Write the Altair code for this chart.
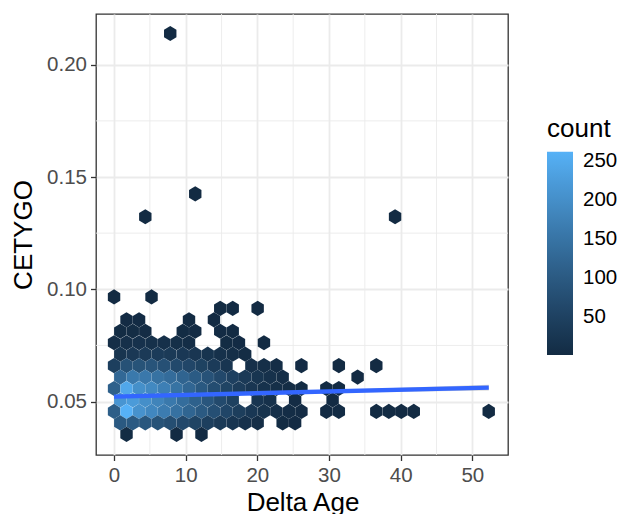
import altair as alt
import pandas as pd

# ---- hexagon bins: one entry per row of the hex grid (centre y), with centre x and count ----
row_y = [0.2139, 0.1425, 0.1323, 0.0966, 0.0915, 0.0864, 0.0813, 0.0762,
         0.0711, 0.0660, 0.0609, 0.0558, 0.0507, 0.0456, 0.0405, 0.0354]

row_x = [
    [7.84],
    [11.33],
    [4.36, 39.22],
    [0.00, 5.23],
    [14.82, 16.56, 20.04],
    [1.74, 3.49, 10.46, 13.94],
    [0.87, 2.61, 4.36, 9.59, 11.33, 14.82, 16.56],
    [0.00, 1.74, 3.49, 5.23, 6.97, 8.72, 10.46, 15.69, 17.43, 20.92],
    [0.87, 2.61, 4.36, 6.10, 7.84, 9.59, 11.33, 13.07, 14.82, 16.56, 18.30],
    [0.00, 1.74, 3.49, 5.23, 6.97, 8.72, 10.46, 12.20, 13.94, 15.69,
     19.17, 20.92, 22.66, 26.15, 31.37, 36.60],
    [0.87, 2.61, 4.36, 6.10, 7.84, 9.59, 11.33, 13.07, 14.82, 16.56,
     18.30, 20.04, 21.79, 23.53, 33.99],
    [0.00, 1.74, 3.49, 5.23, 6.97, 8.72, 10.46, 12.20, 13.94, 15.69,
     17.43, 19.17, 20.92, 22.66, 24.40, 26.15, 29.63, 31.37],
    [0.87, 2.61, 4.36, 6.10, 7.84, 9.59, 11.33, 13.07, 14.82, 16.56,
     20.04, 21.79, 25.27, 30.50],
    [0.00, 1.74, 3.49, 5.23, 6.97, 8.72, 10.46, 12.20, 13.94, 15.69,
     17.43, 19.17, 20.92, 22.66, 24.40, 26.15, 29.63, 31.37,
     36.60, 38.35, 40.09, 41.83, 52.29],
    [0.87, 2.61, 4.36, 6.10, 7.84, 9.59, 11.33, 13.07, 14.82, 16.56,
     18.30, 20.04, 23.53, 25.27],
    [1.74, 8.72, 12.20],
]

row_n = [
    [1],
    [1],
    [1, 1],
    [1, 1],
    [1, 1, 1],
    [2, 2, 1, 1],
    [3, 5, 4, 3, 2, 2, 1],
    [8, 13, 15, 14, 12, 9, 6, 3, 2, 1],
    [22, 30, 34, 36, 34, 30, 26, 20, 14, 9, 5],
    [45, 82, 85, 88, 80, 66, 60, 50, 36, 24, 13, 9, 6, 2, 1, 1],
    [128, 160, 158, 146, 136, 120, 102, 84, 64, 47, 34, 22, 14, 8, 1],
    [112, 245, 202, 190, 172, 148, 124, 98, 74, 54, 38, 25, 16, 9, 5, 3, 1, 1],
    [212, 222, 200, 180, 160, 138, 114, 92, 68, 48, 24, 14, 4, 2],
    [108, 262, 206, 186, 165, 144, 121, 99, 78, 58, 42, 28, 18, 11, 6, 4, 2, 2,
     1, 1, 1, 1, 1],
    [98, 100, 94, 85, 75, 64, 54, 44, 34, 24, 15, 8, 3, 2],
    [3, 1, 1],
]

# ---- linear fit and its confidence band ----
fit_x = [0.0, 52.3]
fit_y = [0.0522, 0.0562]
band_x = [0.0, 10.0, 20.0, 30.0, 40.0, 52.3]
band_lo = [0.0519, 0.05282, 0.05343, 0.0539, 0.05436, 0.0549]
band_hi = [0.0525, 0.05312, 0.05403, 0.0551, 0.05616, 0.0575]

# ---- axes / legend ticks ----
x_ticks = [0, 10, 20, 30, 40, 50]
y_ticks = [0.05, 0.10, 0.15, 0.20]
x_minor = [5, 15, 25, 35, 45]
y_minor = [0.075, 0.125, 0.175]
legend_ticks = [50, 100, 150, 200, 250]
count_range = [1, 262]

recs = []
for y, xs, ns in zip(row_y, row_x, row_n):
    for x, n in zip(xs, ns):
        recs.append({"x": x, "y": y, "count": n})
hex_df = pd.DataFrame(recs)
fit_df = pd.DataFrame({"x": fit_x, "y": fit_y})
band_df = pd.DataFrame({"x": band_x, "lo": band_lo, "hi": band_hi})

FONT = "Liberation Sans"
TITLE_FS = 26
LABEL_FS = 20.5
xscale = alt.Scale(domain=[-2.52, 54.98], nice=False, zero=False)
yscale = alt.Scale(domain=[0.0262, 0.2226], nice=False, zero=False)

xaxis = alt.Axis(values=x_ticks, format="d", title="Delta Age",
                 titleFontSize=TITLE_FS, titleFontWeight="normal", titleColor="black",
                 titleX=206.5, titleY=55.5, titleBaseline="alphabetic",
                 labelFontSize=LABEL_FS, labelColor="#4D4D4D", labelPadding=5,
                 tickSize=5.5, tickColor="#333333", tickWidth=1.3,
                 domain=False, grid=True, gridColor="#EBEBEB", gridWidth=1.8)
yaxis = alt.Axis(values=y_ticks, format=".2f", title="CETYGO",
                 titleFontSize=TITLE_FS, titleFontWeight="normal", titleColor="black",
                 titleX=-64.3, titleY=220.5, titleBaseline="alphabetic",
                 labelFontSize=LABEL_FS, labelColor="#4D4D4D", labelPadding=4,
                 tickSize=5.5, tickColor="#333333", tickWidth=1.3,
                 domain=False, grid=True, gridColor="#EBEBEB", gridWidth=1.8)

minor_x = alt.Chart(pd.DataFrame({"x": x_minor})).mark_rule(
    color="#EBEBEB", strokeWidth=0.9).encode(
    x=alt.X("x:Q", scale=xscale, axis=xaxis))
minor_y = alt.Chart(pd.DataFrame({"y": y_minor})).mark_rule(
    color="#EBEBEB", strokeWidth=0.9).encode(
    y=alt.Y("y:Q", scale=yscale, axis=yaxis))

hex_path = "M0,-1.221L1,-0.6105L1,0.6105L0,1.221L-1,0.6105L-1,-0.6105Z"
hexes = alt.Chart(hex_df).mark_point(
    shape=hex_path, filled=True, size=154, opacity=1, strokeWidth=0).encode(
    x=alt.X("x:Q", scale=xscale, axis=xaxis),
    y=alt.Y("y:Q", scale=yscale, axis=yaxis),
    color=alt.Color("count:Q",
                    scale=alt.Scale(domain=count_range,
                                    range=["#132B43", "#56B1F7"],
                                    interpolate="lab"),
                    legend=alt.Legend(title="count", orient="none",
                                      legendX=451, legendY=101.7,
                                      values=legend_ticks, direction="vertical",
                                      gradientLength=203.3, gradientThickness=26,
                                      gradientStrokeWidth=0,
                                      titleFontSize=TITLE_FS, titleFontWeight="normal",
                                      titleColor="black", titlePadding=10,
                                      labelFontSize=LABEL_FS, labelColor="black",
                                      labelOffset=10, labelOverlap=False,
                                      padding=0)),
)

band = alt.Chart(band_df).mark_area(color="#999999", opacity=0.4).encode(
    x=alt.X("x:Q", scale=xscale, axis=xaxis),
    y=alt.Y("lo:Q", scale=yscale, axis=yaxis),
    y2="hi:Q")

fit = alt.Chart(fit_df).mark_line(color="#3366FF", strokeWidth=4.4).encode(
    x=alt.X("x:Q", scale=xscale, axis=xaxis),
    y=alt.Y("y:Q", scale=yscale, axis=yaxis))

chart = alt.layer(minor_x, minor_y, hexes, band, fit).properties(
    width=412, height=441,
    padding={"left": 88, "top": 6, "right": 122, "bottom": 60},
    autosize=alt.AutoSizeParams(type="none"),
).configure(font=FONT).configure_view(
    stroke="#333333", strokeWidth=1.3
)

chart.save("out.html", embed_options={"renderer": "svg", "actions": False})
